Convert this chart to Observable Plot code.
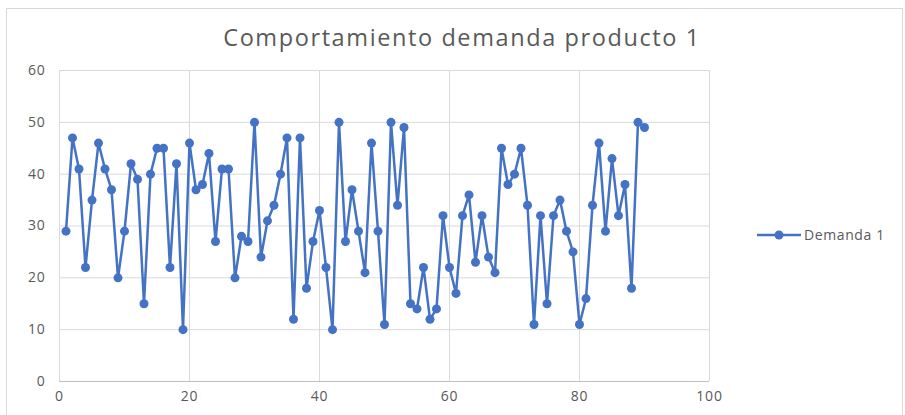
<!DOCTYPE html>
<html>
<head>
<meta charset="utf-8">
<script src="https://cdn.jsdelivr.net/npm/d3@7"></script>
<script src="https://cdn.jsdelivr.net/npm/@observablehq/plot@0.6"></script>
<style>
  body { margin: 0; background: #fff; }
  #wrap { position: relative; width: 905px; height: 415px; font-family: "Open Sans", "Liberation Sans", sans-serif; }
  #frame { position: absolute; left: 6px; top: 8px; width: 897px; height: 410px; border: 1px solid #d9d9d9; box-sizing: border-box; }
  #title { position: absolute; left: 222px; width: 480px; top: 21px; text-align: center; font-size: 23.5px; letter-spacing: 1.6px; color: #595959; white-space: nowrap; }
  #legend { position: absolute; left: 757px; top: 225px; font-size: 14px; letter-spacing: 0.6px; color: #595959; display: flex; align-items: center; }
  #plot { position: absolute; left: 0; top: 0; }
</style>
</head>
<body>
<div id="wrap">
  <div id="frame"></div>
  <div id="plot"></div>
  <div id="title">Comportamiento demanda producto 1</div>
  <div id="legend">
    <svg width="44" height="12"><line x1="0" y1="6" x2="44" y2="6" stroke="#4472C4" stroke-width="2.5"/><circle cx="22" cy="6" r="4.5" fill="#4472C4"/></svg>
    <span style="margin-left:3px">Demanda 1</span>
  </div>
</div>
<script>
const periods = d3.range(1, 91);
const demanda1 = [29,47,41,22,35,46,41,37,20,29,
                  42,39,15,40,45,45,22,42,10,46,
                  37,38,44,27,41,41,20,28,27,50,
                  24,31,34,40,47,12,47,18,27,33,
                  22,10,50,27,37,29,21,46,29,11,
                  50,34,49,15,14,22,12,14,32,22,
                  17,32,36,23,32,24,21,45,38,40,
                  45,34,11,32,15,32,35,29,25,11,
                  16,34,46,29,43,32,38,18,50,49];
const xTicks = [0,20,40,60,80,100];
const yTicks = [0,10,20,30,40,50,60];
const data = periods.map((p, i) => ({x: p, y: demanda1[i]}));

const chart = Plot.plot({
  width: 905,
  height: 415,
  marginLeft: 59,
  marginRight: 196,
  marginTop: 70,
  marginBottom: 34,
  style: {background: "transparent", fontFamily: "'Open Sans', 'Liberation Sans', sans-serif", fontSize: "14px", color: "#595959", letterSpacing: "0.8px"},
  x: {domain: [0, 100], ticks: xTicks},
  y: {domain: [0, 60], ticks: yTicks},
  marks: [
    Plot.gridX(xTicks, {stroke: "#d9d9d9", strokeOpacity: 1, strokeWidth: 1}),
    Plot.gridY(yTicks, {stroke: "#d9d9d9", strokeOpacity: 1, strokeWidth: 1}),
    Plot.ruleY([0], {stroke: "#bfbfbf", strokeWidth: 1}),
    Plot.axisX(xTicks, {tickSize: 0, tickPadding: 10, label: null, fill: "#595959"}),
    Plot.axisY(yTicks, {tickSize: 0, tickPadding: 14, label: null, fill: "#595959"}),
    Plot.line(data, {x: "x", y: "y", stroke: "#4472C4", strokeWidth: 2.5}),
    Plot.dot(data, {x: "x", y: "y", r: 4.5, fill: "#4472C4"})
  ]
});
document.getElementById("plot").appendChild(chart);
</script>
</body>
</html>
